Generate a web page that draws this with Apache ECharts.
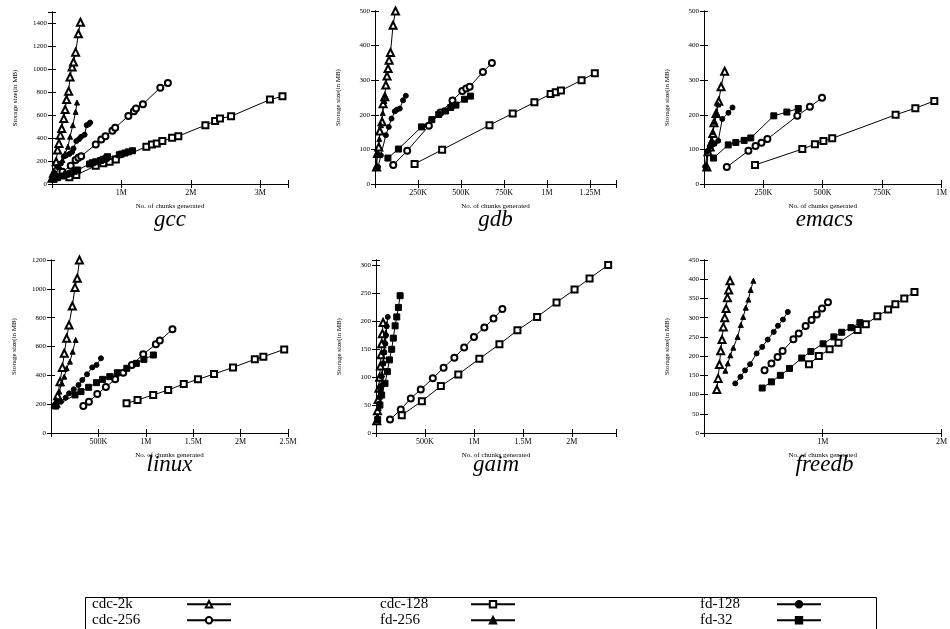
<!DOCTYPE html>
<html>
<head>
<meta charset="utf-8">
<script src="https://cdn.jsdelivr.net/npm/echarts/dist/echarts.min.js"></script>
<style>
html,body{margin:0;padding:0;background:#fff}
#main{width:950px;height:629px}
</style>
</head>
<body>
<div id="main"></div>
<script>
// x values in K chunks, y values in MB
var seriesNames = ['cdc-2k', 'cdc-256', 'cdc-128', 'fd-256', 'fd-128', 'fd-32'];

// gcc
var gccCdc2k = [[0,50],[20,93],[60,194],[80,296],[100,354],[120,426],[140,484],[170,571],[190,649],[210,736],[240,809],[260,933],[290,1020],[310,1064],[340,1150],[380,1310],[410,1411]];
var gccCdc256 = [[60,64],[150,107],[270,159],[340,209],[380,229],[420,243],[630,345],[710,388],[770,417],[870,464],[910,490],[1100,594],[1180,635],[1210,658],[1310,696],[1560,840],[1670,881]];
var gccCdc128 = [[250,58],[350,78],[630,159],[740,180],[830,194],[920,214],[1360,325],[1440,345],[1510,354],[1590,374],[1730,403],[1820,417],[2210,513],[2350,549],[2420,571],[2580,591],[3140,736],[3320,765]];
var gccFd256 = [[10,41],[60,93],[110,151],[150,209],[190,267],[230,325],[260,412],[300,513],[340,629],[360,710]];
var gccFd128 = [[10,49],[30,93],[80,151],[130,180],[170,240],[200,248],[250,262],[290,280],[310,310],[350,374],[390,392],[420,412],[470,430],[500,513],[530,522],[550,536]];
var gccFd32 = [[30,41],[80,55],[150,70],[210,85],[270,93],[320,110],[370,122],[540,174],[580,185],[630,194],[700,205],[740,215],[780,225],[800,238],[970,255],[1000,261],[1050,270],[1100,280],[1160,290]];

// gdb
var gdbCdc2k = [[9,49],[14,88],[22,107],[28,153],[41,180],[47,232],[57,252],[63,286],[70,312],[76,334],[82,358],[90,380],[105,459],[119,500]];
var gdbCdc256 = [[106,55],[187,96],[313,168],[380,207],[450,241],[507,269],[530,276],[550,281],[627,324],[679,350]];
var gdbCdc128 = [[230,58],[390,99],[665,170],[800,204],[926,236],[1020,260],[1050,265],[1080,270],[1200,300],[1277,320]];
var gdbFd256 = [[5,50],[15,90],[25,130],[35,170],[45,205],[55,240],[60,255]];
var gdbFd128 = [[18,49],[34,83],[63,141],[80,165],[96,189],[115,210],[128,215],[144,218],[163,242],[179,255]];
var gdbFd32 = [[75,75],[136,101],[270,165],[330,186],[370,201],[410,211],[440,221],[470,228],[520,245],[555,254]];

// emacs
var emacsCdc2k = [[12,49],[17,93],[26,107],[33,122],[37,146],[42,177],[51,204],[62,239],[72,281],[87,326]];
var emacsCdc256 = [[96,49],[187,96],[217,110],[242,119],[267,130],[393,197],[446,223],[497,249]];
var emacsCdc128 = [[215,55],[414,101],[467,115],[503,124],[540,132],[807,200],[890,219],[970,240]];
var emacsFd256 = [[8,48],[20,100],[30,125],[38,150],[46,180],[54,205],[60,230]];
var emacsFd128 = [[5,50],[15,95],[25,108],[35,113],[45,117],[60,125],[77,188],[103,206],[120,221]];
var emacsFd32 = [[40,75],[102,113],[134,120],[169,126],[197,133],[294,197],[349,208],[397,218]];

// linux
var linuxCdc2k = [[50,206],[70,259],[95,356],[120,455],[140,553],[165,657],[190,749],[225,881],[253,1010],[277,1073],[300,1200]];
var linuxCdc256 = [[341,187],[400,217],[488,270],[579,319],[677,372],[762,418],[853,472],[973,546],[1106,615],[1148,641],[1281,719]];
var linuxCdc128 = [[797,206],[913,229],[1078,264],[1236,298],[1400,340],[1550,372],[1720,409],[1920,455],[2150,511],[2240,529],[2460,580]];
var linuxFd256 = [[42,187],[60,229],[88,287],[112,345],[140,391],[165,449],[200,495],[228,564],[260,645]];
var linuxFd128 = [[40,194],[105,217],[155,245],[190,275],[240,303],[290,333],[330,368],[380,407],[435,455],[480,472],[527,518]];
var linuxFd32 = [[50,187],[253,264],[316,287],[397,317],[480,349],[544,372],[620,391],[700,418],[800,449],[900,483],[980,511],[1080,541]];

// gaim
var gaimCdc2k = [[8,22],[15,40],[22,60],[30,80],[37,100],[45,120],[52,140],[58,160],[65,178],[72,198]];
var gaimCdc256 = [[143,24],[253,42],[355,62],[457,78],[580,98],[690,117],[800,135],[900,153],[1000,172],[1106,189],[1200,205],[1290,222]];
var gaimCdc128 = [[263,32],[468,57],[662,84],[840,105],[1055,133],[1260,159],[1444,184],[1645,208],[1843,234],[2027,257],[2180,277],[2370,301]];
var gaimFd256 = [[15,25],[28,45],[40,65],[50,85],[60,105],[70,125],[80,145],[90,165],[100,180],[110,195]];
var gaimFd128 = [[14,26],[34,53],[48,77],[58,101],[75,125],[85,145],[96,160],[102,175],[109,191],[120,208]];
var gaimFd32 = [[17,24],[40,50],[58,68],[92,89],[116,110],[137,131],[160,150],[177,170],[195,192],[212,208],[229,225],[246,246]];

// freedb
var freedbCdc2k = [[108,113],[119,142],[130,178],[141,214],[152,243],[163,276],[175,300],[186,324],[197,352],[208,372],[219,396]];
var freedbCdc256 = [[510,163],[568,181],[620,198],[662,213],[753,244],[798,259],[856,278],[906,294],[950,308],[994,324],[1044,340]];
var freedbCdc128 = [[884,179],[967,200],[1058,218],[1133,235],[1294,268],[1363,283],[1460,304],[1551,321],[1612,335],[1687,350],[1773,367]];
var freedbFd256 = [[180,162],[200,181],[222,202],[247,222],[283,250],[310,281],[330,302],[352,326],[374,347],[393,372],[416,396]];
var freedbFd128 = [[263,129],[307,146],[346,163],[388,179],[443,207],[490,224],[537,243],[587,263],[623,279],[665,295],[706,315]];
var freedbFd32 = [[490,117],[568,133],[643,150],[720,168],[823,195],[900,212],[1003,232],[1094,250],[1160,262],[1238,274],[1313,287]];

var panels = [
    {name: 'gcc',    xMax: 3400, xStep: 1000, yMax: 1500, yStep: 200, data: [gccCdc2k, gccCdc256, gccCdc128, gccFd256, gccFd128, gccFd32]},
    {name: 'gdb',    xMax: 1400, xStep: 250,  yMax: 500,  yStep: 100, data: [gdbCdc2k, gdbCdc256, gdbCdc128, gdbFd256, gdbFd128, gdbFd32]},
    {name: 'emacs',  xMax: 1000, xStep: 250,  yMax: 500,  yStep: 100, data: [emacsCdc2k, emacsCdc256, emacsCdc128, emacsFd256, emacsFd128, emacsFd32]},
    {name: 'linux',  xMax: 2500, xStep: 500,  yMax: 1200, yStep: 200, data: [linuxCdc2k, linuxCdc256, linuxCdc128, linuxFd256, linuxFd128, linuxFd32]},
    {name: 'gaim',   xMax: 2450, xStep: 500,  yMax: 310,  yStep: 50,  data: [gaimCdc2k, gaimCdc256, gaimCdc128, gaimFd256, gaimFd128, gaimFd32]},
    {name: 'freedb', xMax: 2000, xStep: 1000, yMax: 450,  yStep: 50,  data: [freedbCdc2k, freedbCdc256, freedbCdc128, freedbFd256, freedbFd128, freedbFd32]}
];

// plot boxes
var boxes = [
    {left: 52,  top: 12,  width: 236, height: 172},
    {left: 375, top: 11,  width: 241, height: 173},
    {left: 704, top: 11,  width: 241, height: 173},
    {left: 51,  top: 260, width: 237, height: 173},
    {left: 376, top: 260, width: 240, height: 173},
    {left: 704, top: 260, width: 241, height: 173}
];

var symbols = ['emptyTriangle', 'emptyCircle', 'emptyRect', 'triangle', 'circle', 'rect'];
var symbolSizes = [7, 6, 6, 5, 5, 6];
var serif = 'Liberation Serif';

function kLabel(v) {
    return v >= 1000 ? (v / 1000) + 'M' : v + 'K';
}

var grids = [], xAxes = [], yAxes = [], series = [], graphics = [];
var lineAxis = {lineStyle: {color: '#000', width: 1}};
var tick = {inside: true, length: 4, lineStyle: {color: '#000'}};

panels.forEach(function (p, i) {
    var b = boxes[i];
    grids.push({left: b.left, top: b.top, width: b.width, height: b.height});
    xAxes.push({
        type: 'value', gridIndex: i, min: 0, max: p.xMax, interval: p.xStep,
        axisLine: lineAxis, axisTick: tick, splitLine: {show: false},
        axisLabel: {
            color: '#000', fontFamily: serif, fontSize: 8, margin: 5,
            formatter: function (v) { return (v === 0 || v % p.xStep !== 0) ? '' : kLabel(v); }
        },
        name: 'No. of chunks generated', nameLocation: 'middle', nameGap: 19,
        nameTextStyle: {color: '#000', fontFamily: serif, fontSize: 7}
    });
    xAxes.push({
        type: 'value', gridIndex: i, position: 'top', min: 0, max: p.xMax, interval: p.xStep,
        axisLine: lineAxis, axisTick: tick, splitLine: {show: false}, axisLabel: {show: false}
    });
    yAxes.push({
        type: 'value', gridIndex: i, min: 0, max: p.yMax, interval: p.yStep,
        axisLine: lineAxis, axisTick: tick, splitLine: {show: false},
        axisLabel: {
            color: '#000', fontFamily: serif, fontSize: 7, margin: 5,
            formatter: function (v) { return v % p.yStep !== 0 ? '' : v; }
        },
        name: 'Storage size(in MB)', nameLocation: 'middle', nameGap: 33,
        nameTextStyle: {color: '#000', fontFamily: serif, fontSize: 7}
    });
    yAxes.push({
        type: 'value', gridIndex: i, position: 'right', min: 0, max: p.yMax, interval: p.yStep,
        axisLine: lineAxis, axisTick: tick, splitLine: {show: false}, axisLabel: {show: false}
    });
    p.data.forEach(function (d, k) {
        series.push({
            name: seriesNames[k], type: 'line', xAxisIndex: i * 2, yAxisIndex: i * 2,
            data: d, symbol: symbols[k], symbolSize: symbolSizes[k], showAllSymbol: true,
            lineStyle: {color: '#000', width: 1}, itemStyle: {color: '#000', borderColor: '#000', borderWidth: 1},
            emphasis: {disabled: true}, animation: false, z: 3
        });
    });
    graphics.push({
        type: 'text', x: b.left + b.width / 2, y: i < 3 ? 220 : 465,
        style: {text: p.name, font: 'italic 23px ' + serif, fill: '#000', align: 'center', verticalAlign: 'middle'}
    });
});

// legend box
graphics.push({
    type: 'rect', shape: {x: 85.5, y: 597.5, width: 791, height: 40},
    style: {fill: 'none', stroke: '#000', lineWidth: 1}
});

// legend entries: [name, text left, icon left, row center y]
var legendSlots = [
    ['cdc-2k', 92, 186, 604], ['cdc-256', 92, 186, 620],
    ['cdc-128', 380, 470, 604], ['fd-256', 380, 470, 620],
    ['fd-128', 700, 776, 604], ['fd-32', 700, 776, 620]
];
var legends = legendSlots.map(function (s) {
    graphics.push({
        type: 'text', x: s[1], y: s[3],
        style: {text: s[0], font: '15px ' + serif, fill: '#000', align: 'left', verticalAlign: 'middle'}
    });
    return {
        data: [s[0]], left: s[2], top: s[3] - 4, itemWidth: 44, itemHeight: 8,
        padding: 0, itemGap: 0, selectedMode: false,
        formatter: function () { return ''; },
        textStyle: {fontSize: 1}
    };
});

var chart = echarts.init(document.getElementById('main'));
chart.setOption({
    animation: false,
    backgroundColor: '#fff',
    grid: grids,
    xAxis: xAxes,
    yAxis: yAxes,
    series: series,
    legend: legends,
    graphic: graphics
});
</script>
</body>
</html>
